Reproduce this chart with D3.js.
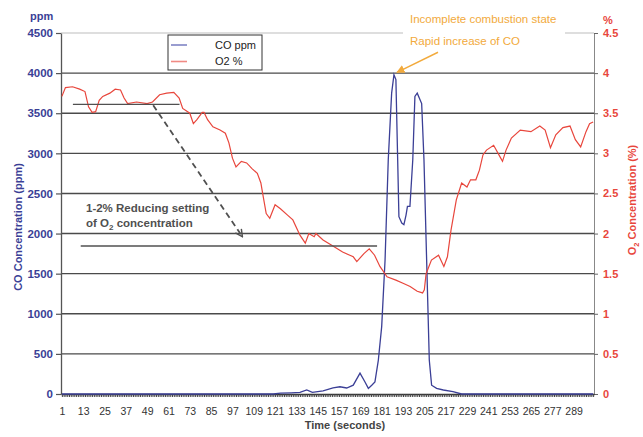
<!DOCTYPE html>
<html>
<head>
<meta charset="utf-8">
<script src="https://cdn.jsdelivr.net/npm/d3@7"></script>
<style>
body { margin: 0; background: #fff; }
svg { display: block; font-family: "Liberation Sans", Arial, sans-serif; }
</style>
</head>
<body>
<div id="chart"></div>
<script>
// values
var coTime = [1, 120, 124, 130, 135, 138.8, 142, 148, 153.6, 157.5,
    161.3, 165, 168.8, 171.6, 173.5, 175.4, 177.2, 179.1, 181, 182.9,
    184.7, 186.6, 187.9, 189, 190, 190.7, 192.3, 193.5, 194.7, 195.5,
    196.9, 198.5, 199.7, 201, 203.5, 204.8, 206.3, 207.8, 209.1, 211.9,
    215.7, 221.1, 226, 300];
var coPpm = [0, 0, 10, 15, 20, 50, 20, 40, 75, 90,
    75, 110, 260, 150, 70, 110, 150, 420, 840, 1670,
    2920, 3750, 3980, 3920, 2920, 2210, 2130, 2110, 2230, 2340,
    2340, 2920, 3710, 3750, 3620, 2920, 1670, 420, 110, 70,
    50, 30, 0, 0];

var o2Time = [1, 3, 7, 11, 14, 16, 18, 20, 22, 24,
    28, 31, 34, 36, 38, 43, 49, 52, 56, 60,
    64, 67, 69, 73, 75, 77, 80, 81, 83, 86,
    90, 93, 95, 97, 99, 102, 105, 108, 111, 113,
    114, 116, 118, 121, 124, 128, 131, 135, 138, 140,
    143, 144, 148, 154, 159, 165, 167, 171, 174, 177,
    180, 184, 189, 193, 197, 201, 204, 205, 206, 209,
    213, 216, 218, 220, 223, 226, 229, 231, 234, 236,
    238, 240, 244, 248, 249, 251, 254, 259, 265, 270,
    273, 276, 279, 283, 287, 290, 293, 296, 298, 300];
var o2Pct = [3.71, 3.82, 3.83, 3.80, 3.77, 3.58, 3.51, 3.52, 3.66, 3.71,
    3.75, 3.80, 3.79, 3.69, 3.62, 3.64, 3.62, 3.64, 3.73, 3.75,
    3.76, 3.69, 3.56, 3.50, 3.37, 3.42, 3.51, 3.51, 3.42, 3.33,
    3.29, 3.25, 3.13, 2.94, 2.83, 2.90, 2.88, 2.81, 2.75, 2.63,
    2.50, 2.25, 2.19, 2.36, 2.31, 2.23, 2.17, 1.98, 1.88, 2.00,
    1.96, 2.00, 1.92, 1.84, 1.77, 1.71, 1.65, 1.75, 1.81, 1.73,
    1.59, 1.46, 1.42, 1.38, 1.34, 1.28, 1.26, 1.30, 1.50, 1.67,
    1.73, 1.59, 1.71, 2.04, 2.42, 2.63, 2.58, 2.67, 2.67, 2.79,
    2.98, 3.04, 3.10, 2.94, 2.90, 3.04, 3.19, 3.29, 3.27, 3.34,
    3.29, 3.07, 3.23, 3.32, 3.34, 3.17, 3.08, 3.27, 3.37, 3.39];

var timeTicks = [1, 13, 25, 37, 49, 61, 73, 85, 97, 109, 121, 133, 145,
    157, 169, 181, 193, 205, 217, 229, 241, 253, 265, 277, 289];
var coTicks = [0, 500, 1000, 1500, 2000, 2500, 3000, 3500, 4000, 4500];
var o2Ticks = [0, 0.5, 1, 1.5, 2, 2.5, 3, 3.5, 4, 4.5];
var seriesNames = ["CO ppm", "O2 %"];

(function () {
    var width = 643, height = 437;
    var left = 61, right = 594, top = 33, bottom = 394;
    var blue = "#3b3f96", red = "#e8463c", orange = "#f2aa3c", grey = "#505050";

    var svg = d3.select("#chart").append("svg")
        .attr("width", width)
        .attr("height", height);

    var x = d3.scaleLinear().domain([0.5, 300.5]).range([left, right]),
        yCo = d3.scaleLinear().domain([0, 4500]).range([bottom, top]),
        yO2 = d3.scaleLinear().domain([0, 4.5]).range([bottom, top]);

    var defs = svg.append("defs");
    defs.append("marker")
        .attr("id", "headOrange")
        .attr("viewBox", "0 0 10 10")
        .attr("refX", 9).attr("refY", 5)
        .attr("markerWidth", 6).attr("markerHeight", 6)
        .attr("orient", "auto")
        .append("path").attr("d", "M0,0L10,5L0,10z").attr("fill", orange);
    defs.append("marker")
        .attr("id", "headGrey")
        .attr("viewBox", "0 0 10 10")
        .attr("refX", 9).attr("refY", 5)
        .attr("markerWidth", 5).attr("markerHeight", 5)
        .attr("orient", "auto")
        .append("path").attr("d", "M1,1L9,5L1,9").attr("fill", "none")
        .attr("stroke", grey).attr("stroke-width", 1.6);

    // gridlines
    svg.append("g").selectAll("line")
        .data(coTicks.filter(d => d > 0))
        .enter().append("line")
        .attr("x1", left).attr("x2", right)
        .attr("y1", d => yCo(d)).attr("y2", d => yCo(d))
        .attr("stroke", d => d === 4500 ? "#bdbdbd" : "#4a4a4a")
        .attr("stroke-width", d => d === 4500 ? 1 : 1.4);

    // left axis
    var gl = svg.append("g")
        .attr("transform", "translate(" + left + ",0)")
        .call(d3.axisLeft(yCo).tickValues(coTicks).tickSize(5).tickSizeOuter(0).tickPadding(3)
            .tickFormat(d3.format("d")));
    gl.select(".domain").attr("stroke", "#555").attr("stroke-width", 1.3);
    gl.selectAll(".tick line").attr("stroke", "#555").attr("stroke-width", 1.2);
    gl.selectAll(".tick text").attr("fill", blue).style("font-size", "11.5px").style("font-weight", "bold");

    // right axis
    var gr = svg.append("g")
        .attr("transform", "translate(" + right + ",0)")
        .call(d3.axisRight(yO2).tickValues(o2Ticks).tickSize(4).tickSizeOuter(0).tickPadding(5)
            .tickFormat(d3.format("")));
    gr.select(".domain").attr("stroke", "#888").attr("stroke-width", 1);
    gr.selectAll(".tick line").attr("stroke", "#666");
    gr.selectAll(".tick text").attr("fill", red).style("font-size", "11px").style("font-weight", "bold");

    // bottom axis: dense category ticks + labels
    var gm = svg.append("g")
        .attr("transform", "translate(0," + bottom + ")")
        .call(d3.axisBottom(x).tickValues(d3.range(1, 301)).tickSize(3).tickSizeOuter(0).tickFormat(""));
    gm.select(".domain").attr("stroke", "#333").attr("stroke-width", 1.5);
    gm.selectAll(".tick line").attr("stroke", "#444");

    var gb = svg.append("g")
        .attr("transform", "translate(0," + bottom + ")")
        .call(d3.axisBottom(x).tickValues(timeTicks).tickSize(0).tickPadding(14));
    gb.select(".domain").remove();
    gb.selectAll(".tick text").attr("fill", "#333").style("font-size", "10.5px");

    // series
    var lineCo = d3.line()
        .x(function (d, i) {return x(coTime[i]);})
        .y(function (d) {return yCo(d);});
    var lineO2 = d3.line()
        .x(function (d, i) {return x(o2Time[i]);})
        .y(function (d) {return yO2(d);});

    svg.append("path")
        .attr("fill", "none")
        .attr("stroke", blue)
        .attr("stroke-width", 1.3)
        .attr("d", lineCo(coPpm));
    svg.append("path")
        .attr("fill", "none")
        .attr("stroke", red)
        .attr("stroke-width", 1.2)
        .attr("d", lineO2(o2Pct));

    // reference lines for the O2 setting
    svg.append("line")
        .attr("x1", x(7.2)).attr("x2", x(67.2))
        .attr("y1", yO2(3.61)).attr("y2", yO2(3.61))
        .attr("stroke", grey).attr("stroke-width", 1.4);
    svg.append("line")
        .attr("x1", x(11.6)).attr("x2", x(178.4))
        .attr("y1", yO2(1.845)).attr("y2", yO2(1.845))
        .attr("stroke", grey).attr("stroke-width", 1.4);
    svg.append("line")
        .attr("x1", x(52.4)).attr("y1", yO2(3.6))
        .attr("x2", x(102.6)).attr("y2", yO2(1.96))
        .attr("stroke", grey).attr("stroke-width", 1.8)
        .attr("stroke-dasharray", "6,4")
        .attr("marker-end", "url(#headGrey)");

    var note = svg.append("text")
        .attr("x", 86).attr("y", 212)
        .attr("fill", grey)
        .style("font-size", "11.5px").style("font-weight", "bold");
    note.append("tspan").text("1-2% Reducing setting");
    var note2 = svg.append("text")
        .attr("x", 86).attr("y", 227)
        .attr("fill", grey)
        .style("font-size", "11.5px").style("font-weight", "bold");
    note2.append("tspan").text("of O");
    note2.append("tspan").attr("dy", 3).style("font-size", "8px").text("2");
    note2.append("tspan").attr("dy", -3).text(" concentration");

    // CO peak annotation
    svg.append("rect")
        .attr("x", 403).attr("y", 27).attr("width", 162).attr("height", 11)
        .attr("fill", "#fff");
    svg.append("text")
        .attr("x", 410).attr("y", 23)
        .attr("fill", orange).style("font-size", "11.5px")
        .text("Incomplete combustion state");
    svg.append("text")
        .attr("x", 410).attr("y", 45)
        .attr("fill", orange).style("font-size", "11.5px")
        .text("Rapid increase of CO");
    svg.append("line")
        .attr("x1", x(212.7)).attr("y1", yCo(4260))
        .attr("x2", x(189.6)).attr("y2", yCo(4010))
        .attr("stroke", orange).attr("stroke-width", 1.4)
        .attr("marker-end", "url(#headOrange)");

    // legend
    var lg = svg.append("g");
    lg.append("rect")
        .attr("x", 168).attr("y", 35).attr("width", 94).attr("height", 35)
        .attr("fill", "#fff").attr("stroke", "#333").attr("stroke-width", 1);
    var items = lg.selectAll(".item")
        .data(seriesNames)
        .enter().append("g")
        .attr("class", "item")
        .attr("transform", (d, i) => "translate(0," + (45 + i * 16.5) + ")");
    items.append("line")
        .attr("x1", 171).attr("x2", 187)
        .attr("stroke", (d, i) => i === 0 ? "#7f84c4" : "#f08a84")
        .attr("stroke-width", 1.6);
    items.append("text")
        .attr("x", 215).attr("dy", "0.35em")
        .attr("fill", "#222").style("font-size", "11px")
        .text(d => d);

    // axis titles
    svg.append("text")
        .attr("x", 30).attr("y", 20)
        .attr("fill", blue).style("font-size", "11px").style("font-weight", "bold")
        .text("ppm");
    svg.append("text")
        .attr("x", 603).attr("y", 24)
        .attr("fill", red).style("font-size", "11px").style("font-weight", "bold")
        .text("%");
    svg.append("text")
        .attr("transform", "translate(22,227) rotate(-90)")
        .attr("text-anchor", "middle")
        .attr("fill", blue).style("font-size", "11px").style("font-weight", "bold")
        .text("CO Concentration (ppm)");
    var rt = svg.append("text")
        .attr("transform", "translate(636,200) rotate(-90)")
        .attr("text-anchor", "middle")
        .attr("fill", red).style("font-size", "11px").style("font-weight", "bold");
    rt.append("tspan").text("O");
    rt.append("tspan").attr("dy", 3).style("font-size", "7.5px").text("2");
    rt.append("tspan").attr("dy", -3).text(" Concentration (%)");
    svg.append("text")
        .attr("x", 345).attr("y", 429)
        .attr("text-anchor", "middle")
        .attr("fill", "#444").style("font-size", "11px").style("font-weight", "bold")
        .text("Time (seconds)");
})();
</script>
</body>
</html>
